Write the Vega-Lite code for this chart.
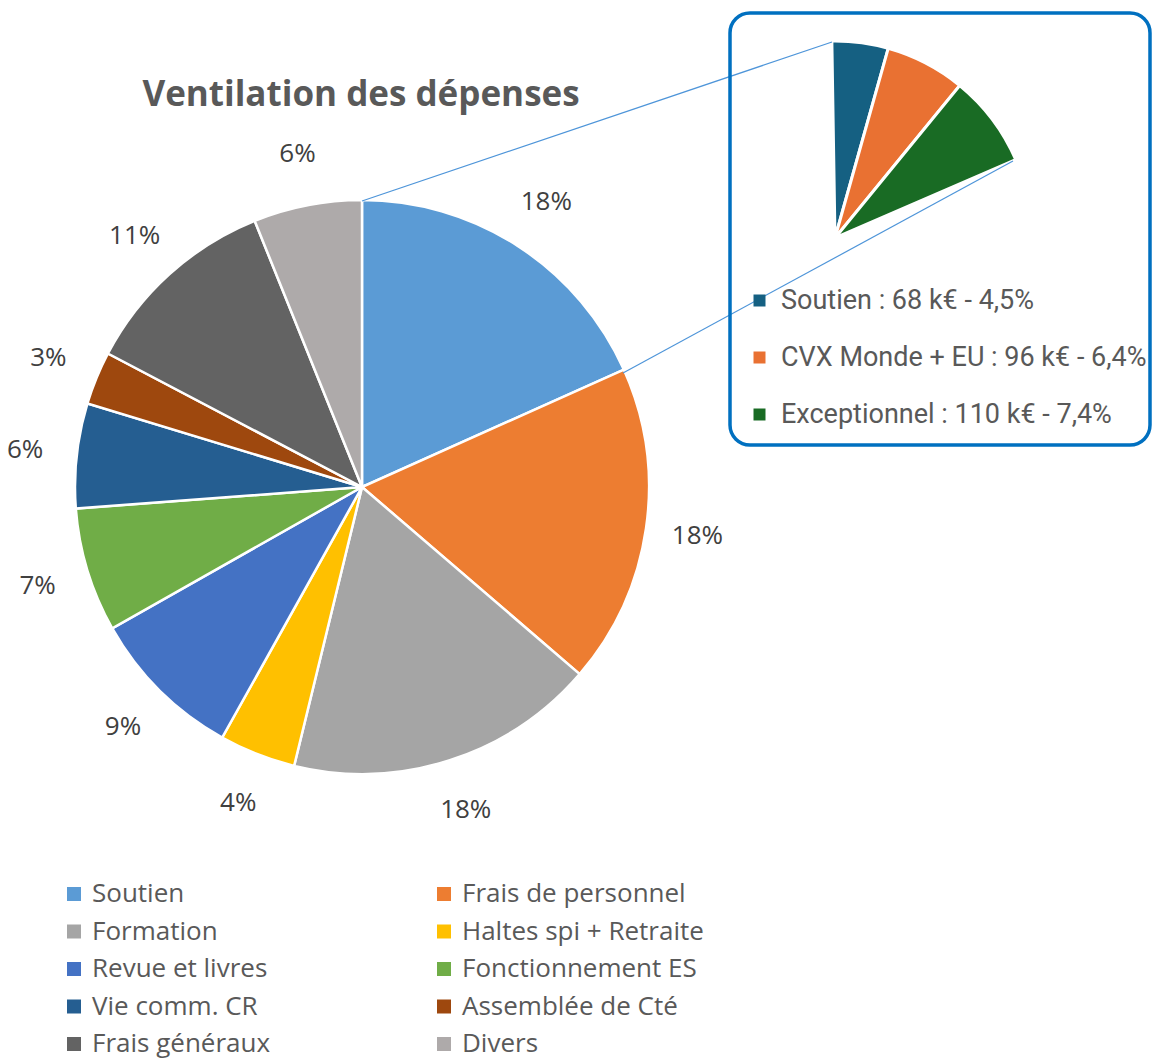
{
  "$schema": "https://vega.github.io/schema/vega-lite/v6.json",
  "width": 1152,
  "height": 1064,
  "padding": 0,
  "autosize": {"type": "none"},
  "background": "white",
  "config": {"view": {"stroke": null}},
  "datasets": {
    "depenses": [
      {"poste": "Soutien", "part": 18.3, "pct": "18%", "rang": 1},
      {"poste": "Frais de personnel", "part": 18.0, "pct": "18%", "rang": 2},
      {"poste": "Formation", "part": 17.5, "pct": "18%", "rang": 3},
      {"poste": "Haltes spi + Retraite", "part": 4.3, "pct": "4%", "rang": 4},
      {"poste": "Revue et livres", "part": 8.7, "pct": "9%", "rang": 5},
      {"poste": "Fonctionnement ES", "part": 7.0, "pct": "7%", "rang": 6},
      {"poste": "Vie comm. CR", "part": 5.9, "pct": "6%", "rang": 7},
      {"poste": "Assemblée de Cté", "part": 3.0, "pct": "3%", "rang": 8},
      {"poste": "Frais généraux", "part": 11.2, "pct": "11%", "rang": 9},
      {"poste": "Divers", "part": 6.1, "pct": "6%", "rang": 10}
    ],
    "soutien": [
      {"poste": "Soutien : 68 k€ - 4,5%", "part": 4.5, "rang": 1},
      {"poste": "CVX Monde + EU : 96 k€ - 6,4%", "part": 6.4, "rang": 2},
      {"poste": "Exceptionnel : 110 k€ - 7,4%", "part": 7.4, "rang": 3}
    ],
    "titre": [{"texte": "Ventilation des dépenses"}]
  },
  "layer": [
    {
      "data": {"name": "depenses"},
      "mark": {"type": "arc", "outerRadius": 287, "stroke": "white", "strokeWidth": 2.5},
      "encoding": {
        "x": {"datum": 362, "type": "quantitative", "scale": {"domain": [0, 1152], "nice": false, "zero": false}, "axis": null},
        "y": {"datum": 487, "type": "quantitative", "scale": {"domain": [0, 1064], "nice": false, "zero": false, "reverse": true}, "axis": null},
        "theta": {"field": "part", "type": "quantitative", "stack": true},
        "order": {"field": "rang", "type": "quantitative"},
        "color": {
          "field": "poste", "type": "nominal",
          "scale": {
            "domain": ["Soutien", "Frais de personnel", "Formation", "Haltes spi + Retraite", "Revue et livres", "Fonctionnement ES", "Vie comm. CR", "Assemblée de Cté", "Frais généraux", "Divers"],
            "range": ["#5B9BD5", "#ED7D31", "#A5A5A5", "#FFC000", "#4472C4", "#70AD47", "#255E91", "#9E480E", "#636363", "#AEAAAA"]
          },
          "legend": {
            "orient": "none", "legendX": 61, "legendY": 881, "direction": "horizontal", "columns": 2, "columnPadding": 160, "rowPadding": 11.5,
            "symbolType": "square", "symbolSize": 196, "symbolStrokeWidth": 0,
            "labelFont": "Open Sans", "labelFontSize": 26, "labelColor": "#595959", "labelOffset": 5, "labelLimit": 500,
            "title": null, "padding": 0
          }
        }
      }
    },
    {
      "data": {"name": "depenses"},
      "mark": {"type": "text", "radius": 339, "font": "Open Sans", "fontSize": 26, "color": "#404040"},
      "encoding": {
        "x": {"datum": 362, "type": "quantitative", "scale": {"domain": [0, 1152], "nice": false, "zero": false}, "axis": null},
        "y": {"datum": 487, "type": "quantitative", "scale": {"domain": [0, 1064], "nice": false, "zero": false, "reverse": true}, "axis": null},
        "theta": {"field": "part", "type": "quantitative", "stack": true},
        "order": {"field": "rang", "type": "quantitative"},
        "text": {"field": "pct", "type": "nominal"}
      }
    },
    {
      "data": {"name": "soutien"},
      "mark": {"type": "arc", "outerRadius": 197, "stroke": "white", "strokeWidth": 3},
      "encoding": {
        "x": {"datum": 835, "type": "quantitative", "scale": {"domain": [0, 1152], "nice": false, "zero": false}, "axis": null},
        "y": {"datum": 238, "type": "quantitative", "scale": {"domain": [0, 1064], "nice": false, "zero": false, "reverse": true}, "axis": null},
        "theta": {"field": "part", "type": "quantitative", "stack": true, "scale": {"domain": [0, 18.3], "range": [-0.016, 1.162]}},
        "order": {"field": "rang", "type": "quantitative"},
        "color": {
          "field": "poste", "type": "nominal",
          "scale": {
            "domain": ["Soutien : 68 k€ - 4,5%", "CVX Monde + EU : 96 k€ - 6,4%", "Exceptionnel : 110 k€ - 7,4%"],
            "range": ["#156082", "#E97132", "#196B24"]
          },
          "legend": {
            "orient": "none", "legendX": 746, "legendY": 287, "direction": "vertical", "rowPadding": 29,
            "symbolType": "square", "symbolSize": 144, "symbolStrokeWidth": 0,
            "labelFont": "Roboto", "labelFontSize": 27, "labelColor": "#595959", "labelOffset": 8, "labelLimit": 600,
            "title": null, "padding": 0
          }
        }
      }
    },
    {
      "data": {"values": [{"lien": "haut"}]},
      "mark": {"type": "rule", "color": "#4E95D9", "strokeWidth": 1.2},
      "encoding": {
        "x": {"datum": 362, "type": "quantitative", "scale": {"domain": [0, 1152], "nice": false, "zero": false}, "axis": null},
        "y": {"datum": 201, "type": "quantitative", "scale": {"domain": [0, 1064], "nice": false, "zero": false, "reverse": true}, "axis": null},
        "x2": {"datum": 832},
        "y2": {"datum": 42}
      }
    },
    {
      "data": {"values": [{"lien": "bas"}]},
      "mark": {"type": "rule", "color": "#4E95D9", "strokeWidth": 1.2},
      "encoding": {
        "x": {"datum": 623, "type": "quantitative", "scale": {"domain": [0, 1152], "nice": false, "zero": false}, "axis": null},
        "y": {"datum": 373, "type": "quantitative", "scale": {"domain": [0, 1064], "nice": false, "zero": false, "reverse": true}, "axis": null},
        "x2": {"datum": 1013},
        "y2": {"datum": 161}
      }
    },
    {
      "data": {"values": [{"cadre": "zoom"}]},
      "mark": {"type": "rect", "filled": false, "color": "#0070C0", "strokeWidth": 3.5, "cornerRadius": 20},
      "encoding": {
        "x": {"datum": 730, "type": "quantitative", "scale": {"domain": [0, 1152], "nice": false, "zero": false}, "axis": null},
        "y": {"datum": 13, "type": "quantitative", "scale": {"domain": [0, 1064], "nice": false, "zero": false, "reverse": true}, "axis": null},
        "x2": {"datum": 1150},
        "y2": {"datum": 445}
      }
    },
    {
      "data": {"name": "titre"},
      "mark": {"type": "text", "font": "Open Sans", "fontSize": 35, "fontWeight": "bold", "color": "#595959", "align": "center", "baseline": "alphabetic"},
      "encoding": {
        "x": {"datum": 361, "type": "quantitative", "scale": {"domain": [0, 1152], "nice": false, "zero": false}, "axis": null},
        "y": {"datum": 106, "type": "quantitative", "scale": {"domain": [0, 1064], "nice": false, "zero": false, "reverse": true}, "axis": null},
        "text": {"field": "texte", "type": "nominal"}
      }
    }
  ],
  "resolve": {"scale": {"theta": "independent", "color": "independent"}, "legend": {"color": "independent"}}
}
